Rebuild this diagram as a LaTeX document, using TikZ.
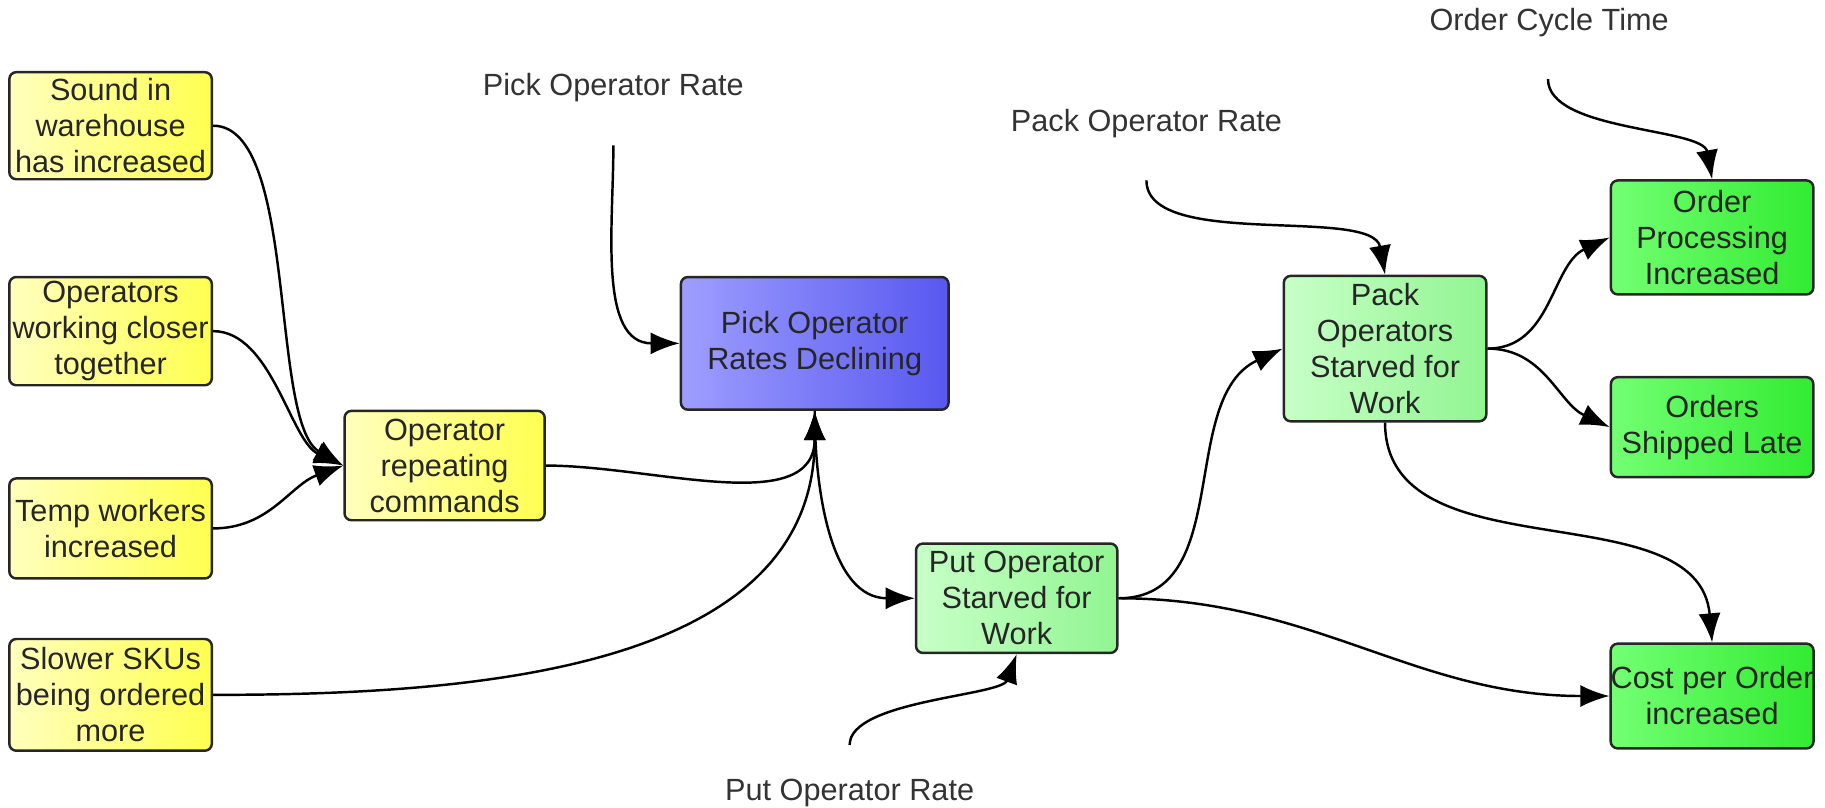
\documentclass[tikz,border=0pt]{standalone}
\usepackage{fontspec}
\setmainfont{Liberation Sans}
\usetikzlibrary{arrows.meta}
\definecolor{yelA}{RGB}{255,255,190}
\definecolor{yelB}{RGB}{255,255,80}
\definecolor{bluA}{RGB}{158,158,255}
\definecolor{bluB}{RGB}{88,88,240}
\definecolor{lgrA}{RGB}{200,255,200}
\definecolor{lgrB}{RGB}{145,245,145}
\definecolor{grnA}{RGB}{115,255,115}
\definecolor{grnB}{RGB}{50,235,50}
\begin{document}
\begin{tikzpicture}[x=0.02cm, y=0.02cm,
            box/.style={draw=black!85, line width=1.2pt, rounded corners=0.12cm, align=center,
                inner sep=0pt, font=\fontsize{15}{17.6}\selectfont, text=black!85},
            yel/.style={box, left color=yelA, right color=yelB},
            blu/.style={box, left color=bluA, right color=bluB},
            lgr/.style={box, left color=lgrA, right color=lgrB},
            grn/.style={box, left color=grnA, right color=grnB},
            lbl/.style={font=\fontsize{15}{18}\selectfont, text=black!80},
            link/.style={-{Latex[length=0.5cm,width=0.38cm]}, line width=1.2pt}]
            \useasboundingbox (0,0) rectangle (1568,-694);
            % causes
            \node[yel, minimum width=3.48cm, minimum height=1.84cm] (sound) at (95,-108) {Sound in\\warehouse\\has increased};
            \node[yel, minimum width=3.48cm, minimum height=1.86cm] (closer) at (95,-284.5) {Operators\\working closer\\together};
            \node[yel, minimum width=3.48cm, minimum height=1.72cm] (temp) at (95,-454) {Temp workers\\increased};
            \node[yel, minimum width=3.48cm, minimum height=1.92cm] (slower) at (95,-597) {Slower SKUs\\being ordered\\more};
            \node[yel, minimum width=3.44cm, minimum height=1.88cm] (repeat) at (382,-400) {Operator\\repeating\\commands};
            % problem and effects
            \node[blu, minimum width=4.6cm, minimum height=2.28cm] (pick) at (700,-295) {Pick Operator\\Rates Declining};
            \node[lgr, minimum width=3.46cm, minimum height=1.88cm] (put) at (873.5,-514) {Put Operator\\Starved for\\Work};
            \node[lgr, minimum width=3.48cm, minimum height=2.5cm] (pack) at (1190,-299.5) {Pack\\Operators\\Starved for\\Work};
            \node[grn, minimum width=3.48cm, minimum height=1.96cm] (proc) at (1471,-204) {Order\\Processing\\Increased};
            \node[grn, minimum width=3.48cm, minimum height=1.72cm] (late) at (1471,-367) {Orders\\Shipped Late};
            \node[grn, minimum width=3.48cm, minimum height=1.8cm] (cost) at (1471,-598) {Cost per Order\\increased};
            % measures
            \node[lbl] (pickrate) at (527,-75) {Pick Operator Rate};
            \node[lbl] (packrate) at (985,-106) {Pack Operator Rate};
            \node[lbl] (cycletime) at (1331,-19) {Order Cycle Time};
            \node[lbl] (putrate) at (730,-681) {Put Operator Rate};
            \coordinate (pickrate-tail) at (527,-125);
            \coordinate (packrate-tail) at (985,-155);
            \coordinate (cycletime-tail) at (1330,-68);
            \coordinate (putrate-tail) at (730,-640);
            % links
            \draw[link] (sound.east) to[out=0,in=150,looseness=0.6] (repeat.west);
            \draw[link] (closer.east) to[out=0,in=155,looseness=0.8] (repeat.west);
            \draw[link] (temp.east) to[out=0,in=200] (repeat.west);
            \draw[link] (slower.east) to[out=0,in=-90] (pick.south);
            \draw[link] (repeat.east) to[out=0,in=-90] (pick.south);
            \draw[link] (pick.south) to[out=-90,in=180] (put.west);
            \draw[link] (put.east) to[out=0,in=205] (pack.west);
            \draw[link] (put.east) to[out=0,in=180] (cost.west);
            \draw[link] (pack.east) to[out=0,in=205] (proc.west);
            \draw[link] (pack.east) to[out=0,in=155] (late.west);
            \draw[link] (pack.south) to[out=-90,in=95] (cost.north);
            \draw[link] (pickrate-tail) to[out=-90,in=180] (pick.west);
            \draw[link] (packrate-tail) to[out=-90,in=100,looseness=0.7] (pack.north);
            \draw[link] (cycletime-tail) to[out=-90,in=100,looseness=0.7] (proc.north);
            \draw[link] (putrate-tail) to[out=90,in=-110,looseness=0.6] (put.south);
\end{tikzpicture}
\end{document}
